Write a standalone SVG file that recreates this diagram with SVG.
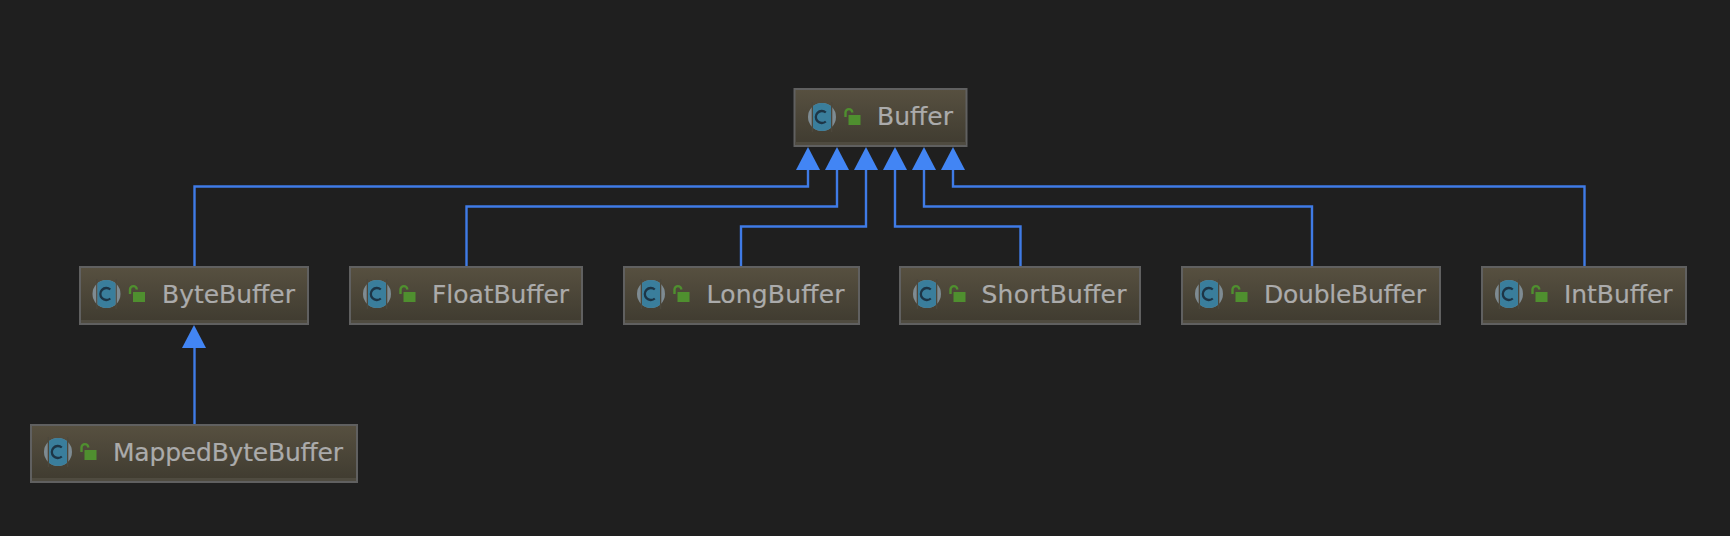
<svg xmlns="http://www.w3.org/2000/svg" xmlns:xlink="http://www.w3.org/1999/xlink" width="1730" height="536" viewBox="0 0 1730 536">
<style>
.box{fill:url(#boxFill);stroke:#606060;stroke-width:2}
.base{fill:#4f4b40}
.label{font-family:"DejaVu Sans","Liberation Sans",sans-serif;font-size:25px;fill:#ababab;stroke:#ababab;stroke-width:.2}
.edge{fill:none;stroke:#3f7be6;stroke-width:2.4}
.head{fill:#4285f4}
</style>
<defs>
<linearGradient id="boxFill" x1="0" y1="0" x2="0" y2="1">
<stop offset="0" stop-color="#575040"/>
<stop offset="1" stop-color="#3f3b30"/>
</linearGradient>
<clipPath id="band"><rect x="-9" y="-15" width="18" height="30"/></clipPath>
<g id="icon">
<circle r="14" fill="#7e8b92"/>
<rect x="-10.300" y="-15" width="1.300" height="30" fill="#4c483c"/>
<rect x="9" y="-15" width="1.300" height="30" fill="#4c483c"/>
<circle r="14" fill="#3a7e9c" clip-path="url(#band)"/>
<path d="M3.800-4.500A6 6 0 1 0 3.800 4.500" fill="none" stroke="#1d3546" stroke-width="2.300"/>
<path d="M23.500 0V-4.500a3.400 3.400 0 0 1 6.800 0" fill="none" stroke="#4f8f2f" stroke-width="2.400"/>
<rect x="26.500" y="-2" width="12" height="10" fill="#4f8f2f"/>
</g>
</defs>
<rect width="1730" height="536" fill="#1f1f1f"/>
<g id="connectors">
<path class="edge" d="M194.500 266V186.500H808V168"/>
<path class="edge" d="M466.500 266V206.500H837V168"/>
<path class="edge" d="M741 266V226.500H866V168"/>
<path class="edge" d="M1020.500 266V226.500H895V168"/>
<path class="edge" d="M1312 266V206.500H924V168"/>
<path class="edge" d="M1584.500 266V186.500H953V168"/>
<path class="edge" d="M194.500 424V346"/>
<polygon class="head" points="808,147 820,170 796,170"/>
<polygon class="head" points="837,147 849,170 825,170"/>
<polygon class="head" points="866,147 878,170 854,170"/>
<polygon class="head" points="895,147 907,170 883,170"/>
<polygon class="head" points="924,147 936,170 912,170"/>
<polygon class="head" points="953,147 965,170 941,170"/>
<polygon class="head" points="194,325 206,348 182,348"/>
</g>
<g id="node-buffer">
<rect class="box" x="794.500" y="89" width="172" height="57"/><rect class="base" x="795.500" y="142" width="170" height="3"/>
<use xlink:href="#icon" href="#icon" x="822" y="117"/>
<text class="label" x="877" y="125" textLength="76">Buffer</text>
</g>
<g id="node-bytebuffer">
<rect class="box" x="80" y="267" width="228" height="57"/><rect class="base" x="81" y="320" width="226" height="3"/>
<use xlink:href="#icon" href="#icon" x="106.500" y="294"/>
<text class="label" x="162" y="303" textLength="133">ByteBuffer</text>
</g>
<g id="node-floatbuffer">
<rect class="box" x="350" y="267" width="232" height="57"/><rect class="base" x="351" y="320" width="230" height="3"/>
<use xlink:href="#icon" href="#icon" x="377" y="294"/>
<text class="label" x="432" y="303" textLength="137">FloatBuffer</text>
</g>
<g id="node-longbuffer">
<rect class="box" x="624" y="267" width="235" height="57"/><rect class="base" x="625" y="320" width="233" height="3"/>
<use xlink:href="#icon" href="#icon" x="651" y="294"/>
<text class="label" x="706.500" y="303" textLength="138">LongBuffer</text>
</g>
<g id="node-shortbuffer">
<rect class="box" x="900" y="267" width="240" height="57"/><rect class="base" x="901" y="320" width="238" height="3"/>
<use xlink:href="#icon" href="#icon" x="927" y="294"/>
<text class="label" x="981.500" y="303" textLength="145">ShortBuffer</text>
</g>
<g id="node-doublebuffer">
<rect class="box" x="1182" y="267" width="258" height="57"/><rect class="base" x="1183" y="320" width="256" height="3"/>
<use xlink:href="#icon" href="#icon" x="1209" y="294"/>
<text class="label" x="1264" y="303" textLength="162">DoubleBuffer</text>
</g>
<g id="node-intbuffer">
<rect class="box" x="1482" y="267" width="204" height="57"/><rect class="base" x="1483" y="320" width="202" height="3"/>
<use xlink:href="#icon" href="#icon" x="1509" y="294"/>
<text class="label" x="1564" y="303" textLength="108.500">IntBuffer</text>
</g>
<g id="node-mappedbytebuffer">
<rect class="box" x="31" y="425" width="326" height="57"/><rect class="base" x="32" y="478" width="324" height="3"/>
<use xlink:href="#icon" href="#icon" x="58" y="452"/>
<text class="label" x="113" y="461" textLength="230">MappedByteBuffer</text>
</g>
</svg>
